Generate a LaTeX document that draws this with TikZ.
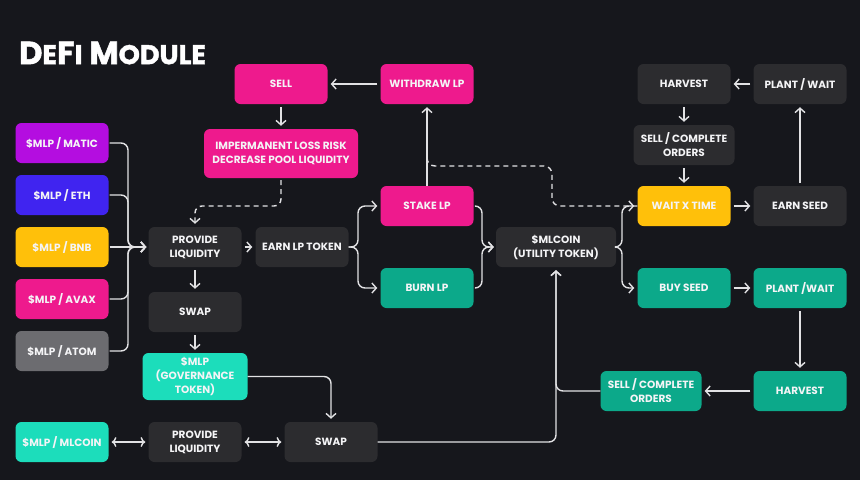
\documentclass[tikz,border=0pt]{standalone}
\usepackage{fontspec}
\setmainfont{Poppins}[BoldFont={Poppins Bold}]
\newfontfamily\titlefont{Poppins}[BoldFont={Poppins Bold}, BoldFeatures={FakeBold=1.6}]
\usetikzlibrary{arrows.meta}
\definecolor{bg}{HTML}{16171C}
\definecolor{dk}{HTML}{2C2C2F}
\definecolor{mag}{HTML}{EE1A8D}
\definecolor{pur}{HTML}{B40DE0}
\definecolor{blu}{HTML}{4024F0}
\definecolor{yel}{HTML}{FFC00A}
\definecolor{gry}{HTML}{6C6C70}
\definecolor{tea}{HTML}{0CA98A}
\definecolor{cya}{HTML}{1CDDBB}
\definecolor{ln}{HTML}{E2E2E4}
\definecolor{tx}{HTML}{F4F4F6}
\tikzset{
  box/.style={rounded corners=6pt, minimum width=93pt, minimum height=40pt, inner sep=0pt,
    align=center, text=tx, font=\bfseries\fontsize{10.5}{14}\selectfont},
  conn/.style={draw=ln, line width=1.4pt, rounded corners=7pt,
    -{Straight Barb[length=4.5pt,width=10pt]}},
  plain/.style={draw=ln, line width=1.4pt, rounded corners=7pt},
  dconn/.style={conn, dash pattern=on 5pt off 4pt},
  dplain/.style={plain, dash pattern=on 5pt off 4pt},
}
\begin{document}
\begin{tikzpicture}[x=1pt,y=-1pt]
\useasboundingbox (0,0) rectangle (860,480);
\fill[bg] (0,0) rectangle (860,480);
\node[anchor=west, text=white, inner sep=0pt] (title) at (19,53)
  {\titlefont\bfseries\fontsize{32}{34}\selectfont D{\fontsize{27}{30}\selectfont E}F{\fontsize{27}{30}\selectfont I} M{\fontsize{27}{30}\selectfont ODULE}};
% left column
\node[box, fill=pur] (matic) at (62,143) {\$MLP / MATIC};
\node[box, fill=blu] (eth) at (62,195) {\$MLP / ETH};
\node[box, fill=yel] (bnb) at (62,247) {\$MLP / BNB};
\node[box, fill=mag] (avax) at (62,299) {\$MLP / AVAX};
\node[box, fill=gry] (atom) at (62,351) {\$MLP / ATOM};
\node[box, fill=cya] (mlpml) at (62,442) {\$MLP / MLCOIN};
% second column
\node[box, fill=mag] (sell) at (281,84) {SELL};
\node[box, fill=mag, minimum width=154pt, minimum height=49pt] (imp) at (281,153.5) {IMPERMANENT LOSS RISK\\DECREASE POOL LIQUIDITY};
\node[box, fill=dk] (prov) at (195,247) {PROVIDE\\LIQUIDITY};
\node[box, fill=dk] (earn) at (302,247) {EARN LP TOKEN};
\node[box, fill=dk] (swap) at (195,312) {SWAP};
\node[box, fill=cya, minimum width=105pt, minimum height=47pt] (gov) at (195,376.5) {\$MLP\\(GOVERNANCE\\TOKEN)};
\node[box, fill=dk] (prov2) at (195,442) {PROVIDE\\LIQUIDITY};
\node[box, fill=dk] (swap2) at (331,442) {SWAP};
% middle
\node[box, fill=mag] (withdraw) at (427,84) {WITHDRAW LP};
\node[box, fill=mag] (stake) at (427,206) {STAKE LP};
\node[box, fill=tea] (burn) at (427,288) {BURN LP};
\node[box, fill=dk, minimum width=120pt] (mlcoin) at (556,247) {\$MLCOIN\\(UTILITY TOKEN)};
% right
\node[box, fill=dk] (harv1) at (684,84) {HARVEST};
\node[box, fill=dk] (plant1) at (800,84) {PLANT / WAIT};
\node[box, fill=dk, minimum width=101pt] (sc1) at (684,145) {SELL / COMPLETE\\ORDERS};
\node[box, fill=yel] (wait) at (684,206) {WAIT X TIME};
\node[box, fill=dk] (seed) at (800,206) {EARN SEED};
\node[box, fill=tea] (buy) at (684,288) {BUY SEED};
\node[box, fill=tea] (plant2) at (800,288) {PLANT /WAIT};
\node[box, fill=tea] (harv2) at (800,391) {HARVEST};
\node[box, fill=tea, minimum width=101pt] (sc2) at (651,391) {SELL / COMPLETE\\ORDERS};
% bus coordinates
\coordinate (busL) at (128,247);
\coordinate (busE) at (358,247);
\coordinate (busS) at (482,247);
\coordinate (busM) at (622,247);
\coordinate (d1) at (552,206);
\coordinate (d2) at (552,166);
\coordinate (d3) at (427,166);
\coordinate (d4) at (427,150);
% left brace
\foreach \n in {matic,eth,avax,atom}{
  \draw[conn, shorten >=2pt] ([xshift=1pt]\n.east) -| (busL) -- (prov.west);
}
\draw[conn, shorten >=2pt] ([xshift=1pt]bnb.east) -- (prov.west);
% column two
\draw[conn, shorten >=3pt, shorten <=3pt] (prov.east) -- (earn.west);
\draw[conn, shorten >=3pt, shorten <=3pt] (prov.south) -- (swap.north);
\draw[conn, shorten >=3pt, shorten <=3pt] (swap.south) -- (gov.north);
\draw[conn, shorten >=3pt] (gov.east) -| (swap2.north);
\draw[conn, <->, shorten >=3pt, shorten <=3pt] (mlpml.east) -- (prov2.west);
\draw[conn, <->, shorten >=3pt, shorten <=3pt] (prov2.east) -- (swap2.west);
\draw[conn, shorten >=3pt] (swap2.east) -| (mlcoin.south);
\draw[conn, shorten >=3pt, shorten <=3pt] (withdraw.west) -- (sell.east);
\draw[conn, shorten >=3pt, shorten <=3pt] (sell.south) -- (imp.north);
\draw[dconn, shorten >=3pt, shorten <=2pt] (imp.south) |- (240,206) -| (prov.north);
% earn brace
\draw[conn, shorten >=3pt] (earn.east) -- (busE) |- (stake.west);
\draw[conn, shorten >=3pt] (earn.east) -- (busE) |- (burn.west);
% stake/burn to mlcoin
\draw[conn, shorten >=2pt] ([xshift=2pt]stake.east) -| (busS) -- (mlcoin.west);
\draw[conn, shorten >=2pt] ([xshift=2pt]burn.east) -| (busS) -- (mlcoin.west);
\draw[conn, shorten >=3pt] (stake.north) -- (withdraw.south);
% mlcoin brace
\draw[conn, shorten >=3pt] (mlcoin.east) -- (busM) |- (wait.west);
\draw[conn, shorten >=3pt] (mlcoin.east) -- (busM) |- (buy.west);
% dashed back
\draw[dplain, rounded corners=8pt] (wait.west) -- (d1) -- (d2) -- (d3) -- (d4);
% right cycle
\draw[conn, shorten >=3pt, shorten <=3pt] (plant1.west) -- (harv1.east);
\draw[conn, shorten >=3pt, shorten <=3pt] (harv1.south) -- (sc1.north);
\draw[conn, shorten >=3pt, shorten <=3pt] (sc1.south) -- (wait.north);
\draw[conn, shorten >=3pt, shorten <=3pt] (wait.east) -- (seed.west);
\draw[conn, shorten >=3pt, shorten <=3pt] (seed.north) -- (plant1.south);
\draw[conn, shorten >=3pt, shorten <=3pt] (buy.east) -- (plant2.west);
\draw[conn, shorten >=3pt, shorten <=3pt] (plant2.south) -- (harv2.north);
\draw[conn, shorten >=3pt, shorten <=3pt] (harv2.west) -- (sc2.east);
\draw[conn, shorten >=3pt] (sc2.west) -| (mlcoin.south);
\end{tikzpicture}
\end{document}
